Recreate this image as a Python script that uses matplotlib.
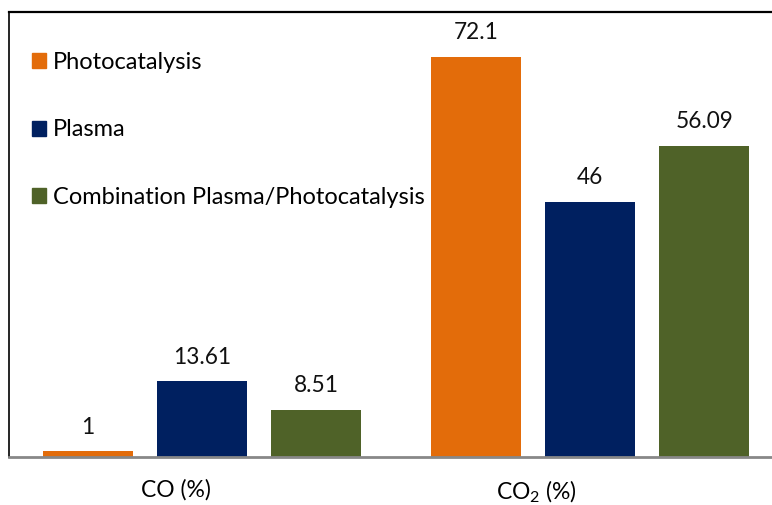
import matplotlib.pyplot as plt
from matplotlib.patches import Patch
import numpy as np

# datos del grafico
categorias = ["CO (%)", "CO$_2$ (%)"]
series = ["Photocatalysis", "Plasma", "Combination Plasma/Photocatalysis"]
photocatalysis = [1, 72.1]
plasma = [13.61, 46]
combinacion = [8.51, 56.09]
etiquetas = [["1", "72.1"], ["13.61", "46"], ["8.51", "56.09"]]

colores = ["#E36C0A", "#002060", "#4F6228"]

plt.rcParams['font.family'] = ['Lato', 'DejaVu Sans']
plt.rcParams['mathtext.fontset'] = 'custom'
plt.rcParams['mathtext.rm'] = 'Lato'
plt.rcParams['mathtext.it'] = 'Lato:italic'

fig = plt.figure(figsize=(7.72, 5.05), dpi=100)
ax = fig.add_axes([9 / 772, 48 / 505, 763 / 772, 445 / 505])

x = np.arange(len(categorias))
ancho = 0.232
paso = 0.294
valores = [photocatalysis, plasma, combinacion]
for i, vals in enumerate(valores):
    barras = ax.bar(x + (i - 1) * paso, vals, ancho, color=colores[i], label=series[i])
    for b, txt in zip(barras, etiquetas[i]):
        ax.annotate(txt, (b.get_x() + b.get_width() / 2, b.get_height()),
                    xytext=(0, 10), textcoords='offset points',
                    ha='center', va='bottom', fontsize=16.3, color='#111111')

ax.set_xlim(-0.497, 1.469)
ax.set_ylim(0, 80.2)
# las etiquetas del eje x estan algo corridas a la izquierda en el original
desplaz = [-0.067, -0.137]
ax.set_xticks(x + np.array(desplaz))
ax.set_xticklabels(categorias, fontsize=16.5)
ax.tick_params(axis='x', length=0, pad=16)
ax.set_yticks([])

# marco: arriba e izquierda en negro, eje inferior gris
ax.spines['right'].set_visible(False)
ax.spines['left'].set_linewidth(1.2)
ax.spines['left'].set_color('black')
ax.spines['top'].set_linewidth(1.6)
ax.spines['top'].set_color('black')
ax.spines['bottom'].set_color('#888888')
ax.spines['bottom'].set_linewidth(2)

handles = [Patch(color=c) for c in colores]
ax.legend(handles, series, loc='upper left', bbox_to_anchor=(0.03, 0.911),
          frameon=False, fontsize=17, handlelength=0.6, handleheight=0.6,
          handletextpad=0.3, labelspacing=1.98, borderpad=0, borderaxespad=0)

fig.savefig("out.png", dpi=100)
